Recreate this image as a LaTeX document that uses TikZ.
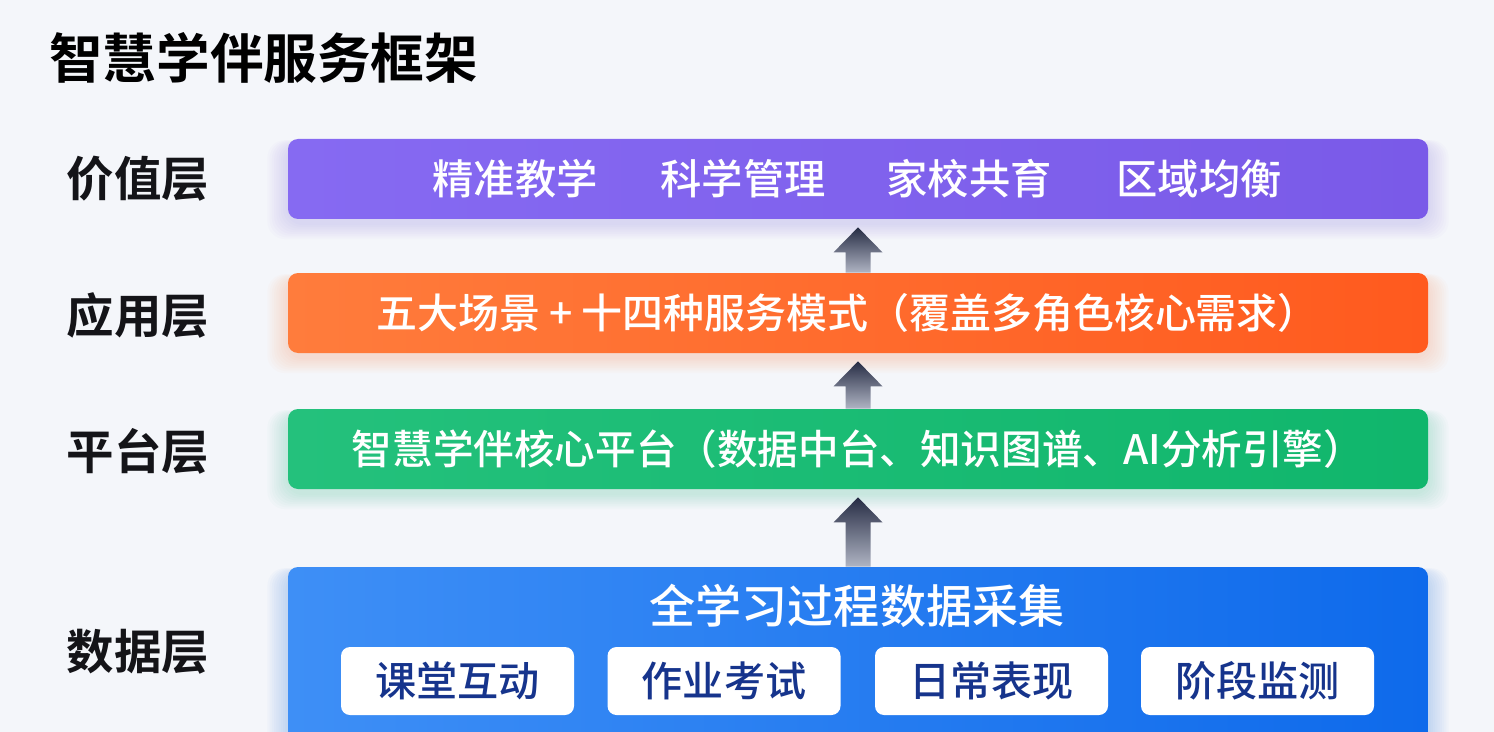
\documentclass[tikz,border=0pt]{standalone}
\usepackage{fontspec}
\setmainfont{Noto Sans CJK SC}
\newfontfamily\cjkmed{Noto Sans CJK SC Medium}
\newfontfamily\cjkbold{Noto Sans CJK SC Bold}
\usetikzlibrary{calc}

\definecolor{bgcol}{RGB}{244,246,250}
\definecolor{txtdark}{RGB}{20,20,24}
\definecolor{subtxt}{RGB}{22,52,140}
\definecolor{valL}{RGB}{134,106,242}
\definecolor{valR}{RGB}{122,90,232}
\definecolor{appL}{RGB}{255,124,60}
\definecolor{appR}{RGB}{255,90,30}
\definecolor{platL}{RGB}{36,193,124}
\definecolor{platR}{RGB}{16,182,108}
\definecolor{dataL}{RGB}{62,143,246}
\definecolor{dataR}{RGB}{14,106,235}
\definecolor{arrTop}{RGB}{38,44,68}
\definecolor{arrBot}{RGB}{175,180,195}

\pgfdeclarelayer{bg}
\pgfdeclarelayer{glowlayer}
\pgfsetlayers{bg,glowlayer,main}

\begin{document}
\begin{tikzpicture}[
    layer/.style={rounded corners=0.2cm, minimum width=22.8cm, minimum height=1.6cm, inner sep=0pt},
    lbl/.style={font=\cjkbold\fontsize{27}{30}\selectfont, text=txtdark},
    boxtxt/.style={font=\cjkmed\fontsize{23.5}{27}\selectfont, text=white},
    subbox/.style={fill=white, rounded corners=0.18cm, minimum width=4.66cm, minimum height=1.36cm, inner sep=0pt,
                   font=\cjkmed\fontsize{23.4}{27}\selectfont, text=subtxt},
    arr/.style={top color=arrTop, bottom color=arrBot, draw=none}
  ]
      \useasboundingbox (0,0) rectangle (29.88,-14.64);
      \clip (0,0) rectangle (29.88,-14.64);
      \begin{pgfonlayer}{bg}
        \fill[bgcol] (0,0) rectangle (29.88,-14.64);
      \end{pgfonlayer}

      \node[anchor=west, font=\cjkbold\fontsize{30.5}{34}\selectfont, text=black] (title) at (0.86,-1.16) {智慧学伴服务框架};

      \node[layer, left color=valL, right color=valR] (val) at (17.16,-3.58) {};
      \node[layer, left color=appL, right color=appR] (app) at (17.16,-6.26) {};
      \node[layer, left color=platL, right color=platR] (plat) at (17.16,-8.98) {};
      \node[layer, minimum height=3.6cm, left color=dataL, right color=dataR] (data) at (17.16,-13.14) {};

      \begin{pgfonlayer}{glowlayer}
        \foreach \n/\c in {val/valL, app/appL, plat/platL, data/dataR}
          \foreach \k in {1,...,9}
            \fill[\c, opacity=0.022, rounded corners=0.35cm]
              ($(\n.south west)+(-\k*0.045,-0.08-\k*0.035)$) rectangle ($(\n.north east)+(\k*0.045,-0.12+\k*0.01)$);
      \end{pgfonlayer}

      \node[boxtxt] (v1) at (10.3,-3.58) {精准教学};
      \node[boxtxt] (v2) at (14.86,-3.58) {科学管理};
      \node[boxtxt] (v3) at (19.38,-3.58) {家校共育};
      \node[boxtxt] (v4) at (23.98,-3.58) {区域均衡};

      \node[boxtxt, font=\cjkmed\fontsize{23.3}{27}\selectfont] (apptxt) at (16.95,-6.26) {五大场景 + 十四种服务模式（覆盖多角色核心需求）};
      \node[boxtxt, font=\cjkmed\fontsize{23.1}{27}\selectfont] (plattxt) at (17.16,-8.98) {智慧学伴核心平台（数据中台、知识图谱、AI分析引擎）};
      \node[boxtxt, font=\cjkmed\fontsize{26.2}{30}\selectfont] (datatxt) at (17.14,-12.12) {全学习过程数据采集};

      \node[subbox] (d1) at (9.15,-13.62) {课堂互动};
      \node[subbox] (d2) at (14.48,-13.62) {作业考试};
      \node[subbox] (d3) at (19.83,-13.62) {日常表现};
      \node[subbox] (d4) at (25.15,-13.62) {阶段监测};

      \node[lbl] (lval) at (2.76,-3.58) {价值层};
      \node[lbl] (lapp) at (2.76,-6.3) {应用层};
      \node[lbl] (lplat) at (2.76,-9.02) {平台层};
      \node[lbl] (ldata) at (2.76,-13.04) {数据层};

      \path[arr] ($(app.north)+(-0.25,0)$) -- ($(val.south)+(-0.25,-0.66)$) -- ($(val.south)+(-0.49,-0.66)$)
        -- ($(val.south)+(0,-0.16)$) -- ($(val.south)+(0.49,-0.66)$) -- ($(val.south)+(0.25,-0.66)$)
        -- ($(app.north)+(0.25,0)$) -- cycle;
      \path[arr] ($(plat.north)+(-0.25,0)$) -- ($(app.south)+(-0.25,-0.66)$) -- ($(app.south)+(-0.49,-0.66)$)
        -- ($(app.south)+(0,-0.16)$) -- ($(app.south)+(0.49,-0.66)$) -- ($(app.south)+(0.25,-0.66)$)
        -- ($(plat.north)+(0.25,0)$) -- cycle;
      \path[arr] ($(data.north)+(-0.25,0)$) -- ($(plat.south)+(-0.25,-0.66)$) -- ($(plat.south)+(-0.49,-0.66)$)
        -- ($(plat.south)+(0,-0.16)$) -- ($(plat.south)+(0.49,-0.66)$) -- ($(plat.south)+(0.25,-0.66)$)
        -- ($(data.north)+(0.25,0)$) -- cycle;
\end{tikzpicture}
\end{document}
